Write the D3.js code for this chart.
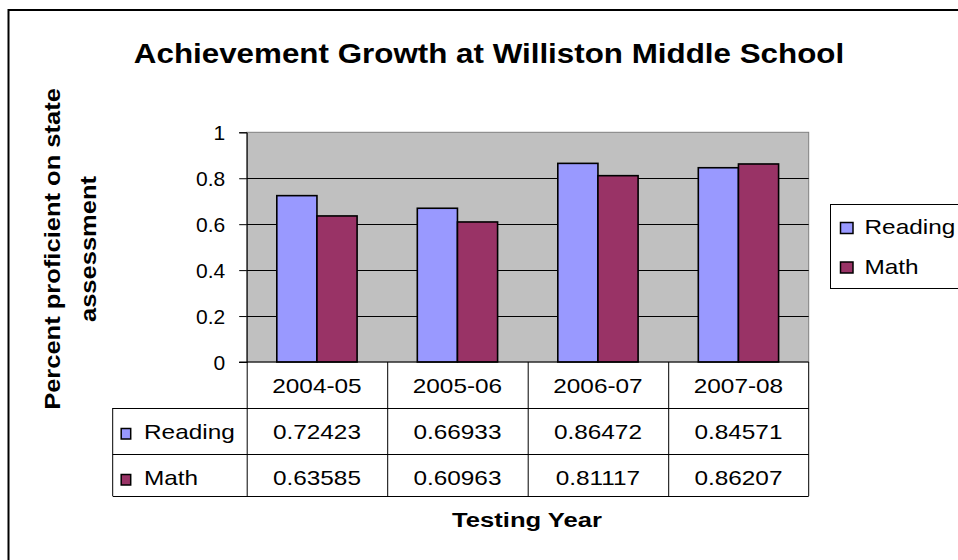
<!DOCTYPE html>
<html>
<head>
<meta charset="utf-8">
<title>Achievement Growth at Williston Middle School</title>
<script src="https://cdn.jsdelivr.net/npm/d3@7"></script>
<style>
    body { margin: 0; background: #fff; }
    svg { display: block; font-family: Arial, "Liberation Sans", sans-serif; }
</style>
</head>
<body>
<svg id="chart"></svg>
<script>
    // data
    const years = ["2004-05", "2005-06", "2006-07", "2007-08"];
    const seriesNames = ["Reading", "Math"];
    const reading = [0.72423, 0.66933, 0.86472, 0.84571];
    const math = [0.63585, 0.60963, 0.81117, 0.86207];
    const yTicks = [0, 0.2, 0.4, 0.6, 0.8, 1];
    const colors = ["#9999FF", "#993366"];

    const values = [reading, math];
    const W = 958, H = 560;

    const svg = d3.select("#chart").attr("width", W).attr("height", H);

    // outer chart frame
    svg.append("rect")
        .attr("x", 8.5).attr("y", 10)
        .attr("width", W + 20).attr("height", H + 20)
        .attr("fill", "#fff").attr("stroke", "#000").attr("stroke-width", 2);

    // text is a bit wider than Liberation Sans, so stretch it a little
    function label(parent, x, y, str, size, weight, anchor, sx, rot) {
        return parent.append("text")
            .attr("transform", `translate(${x},${y})` + (rot ? ` rotate(${rot})` : "") + ` scale(${sx},1)`)
            .attr("text-anchor", anchor)
            .attr("font-size", size)
            .attr("font-weight", weight)
            .attr("fill", "#000")
            .text(str);
    }

    const plot = { left: 246.7, right: 808.7, top: 132.3, bottom: 362 };
    const rows = [362, 408, 454, 496];
    const tableLeft = 112.7;

    const x = d3.scaleBand().domain(years).range([plot.left, plot.right]);
    const x1 = d3.scaleBand().domain(seriesNames).range([0, x.bandwidth()])
        .paddingInner(0).paddingOuter(0.75);
    const y = d3.scaleLinear().domain([0, 1]).range([plot.bottom, plot.top]);

    // plot area
    svg.append("rect")
        .attr("x", plot.left).attr("y", plot.top)
        .attr("width", plot.right - plot.left).attr("height", plot.bottom - plot.top)
        .attr("fill", "#C0C0C0").attr("stroke", "#808080").attr("stroke-width", 1);

    // gridlines
    svg.append("g").selectAll("line")
        .data(yTicks.filter(d => d > 0 && d < 1))
        .join("line")
        .attr("x1", plot.left).attr("x2", plot.right)
        .attr("y1", d => Math.round(y(d)) + 0.5).attr("y2", d => Math.round(y(d)) + 0.5)
        .attr("stroke", "#000").attr("stroke-width", 1);

    // bars
    const groups = svg.append("g").selectAll("g")
        .data(years)
        .join("g")
        .attr("transform", d => `translate(${x(d)},0)`);
    groups.selectAll("rect")
        .data((d, i) => seriesNames.map((s, j) => ({ s: s, j: j, v: values[j][i] })))
        .join("rect")
        .attr("x", d => x1(d.s))
        .attr("y", d => y(d.v))
        .attr("width", x1.bandwidth())
        .attr("height", d => y(0) - y(d.v))
        .attr("fill", d => colors[d.j])
        .attr("stroke", "#000").attr("stroke-width", 1.6);

    // y axis
    const yAxis = svg.append("g")
        .attr("transform", `translate(${plot.left},0)`)
        .call(d3.axisLeft(y).tickValues(yTicks).tickSize(7.5).tickPadding(14)
            .tickFormat(d => String(+d.toFixed(1))));
    yAxis.select(".domain").attr("stroke", "#000");
    yAxis.selectAll(".tick line").attr("stroke", "#000");
    yAxis.selectAll(".tick text")
        .attr("font-size", 21).attr("font-family", "Arial, 'Liberation Sans', sans-serif")
        .attr("fill", "#000").attr("dy", "0.36em");

    // data table
    const table = svg.append("g").attr("stroke", "#000").attr("stroke-width", 1);
    table.append("line").attr("x1", plot.left - 7.5).attr("x2", plot.right)
        .attr("y1", rows[0]).attr("y2", rows[0]);
    rows.slice(1).forEach(r => {
        table.append("line").attr("x1", tableLeft).attr("x2", plot.right)
            .attr("y1", r + 0.5).attr("y2", r + 0.5);
    });
    years.forEach(yr => {
        table.append("line").attr("x1", x(yr) + 0.5).attr("x2", x(yr) + 0.5)
            .attr("y1", rows[0]).attr("y2", rows[3]);
    });
    table.append("line").attr("x1", plot.right).attr("x2", plot.right)
        .attr("y1", rows[0]).attr("y2", rows[3]);
    table.append("line").attr("x1", tableLeft).attr("x2", tableLeft)
        .attr("y1", rows[1]).attr("y2", rows[3]);

    const fmt = d3.format(".5f");
    years.forEach((yr, i) => {
        const cx = x(yr) + x.bandwidth() / 2;
        label(svg, cx, rows[0] + 30.5, yr, 21, "normal", "middle", 1.16);
        values.forEach((vals, j) => {
            label(svg, cx, rows[j + 1] + 31, fmt(vals[i]), 21, "normal", "middle", 1.16);
        });
    });
    seriesNames.forEach((s, j) => {
        svg.append("rect")
            .attr("x", 121.2).attr("y", rows[j + 1] + 20.5)
            .attr("width", 9.5).attr("height", 10.5)
            .attr("fill", colors[j]).attr("stroke", "#000").attr("stroke-width", 1.5);
        label(svg, 144, rows[j + 1] + 31, s, 21, "normal", "start", 1.16);
    });

    // legend
    const lg = svg.append("g");
    lg.append("rect")
        .attr("x", 830.5).attr("y", 204.5).attr("width", 200).attr("height", 84)
        .attr("fill", "#fff").attr("stroke", "#000").attr("stroke-width", 1);
    seriesNames.forEach((s, j) => {
        lg.append("rect")
            .attr("x", 840.5).attr("y", 222.5 + j * 39.5)
            .attr("width", 12.5).attr("height", 11)
            .attr("fill", colors[j]).attr("stroke", "#000").attr("stroke-width", 1.5);
        label(lg, 864.5, 234 + j * 39.5, s, 21, "normal", "start", 1.16);
    });

    // titles
    label(svg, 489, 63, "Achievement Growth at Williston Middle School", 28, "bold", "middle", 1.12);
    label(svg, 527, 527, "Testing Year", 21, "bold", "middle", 1.22);
    label(svg, 60, 249, "Percent proficient on  state", 22, "bold", "middle", 1.16, -90);
    label(svg, 96, 249, "assessment", 22, "bold", "middle", 1.16, -90);
</script>
</body>
</html>
